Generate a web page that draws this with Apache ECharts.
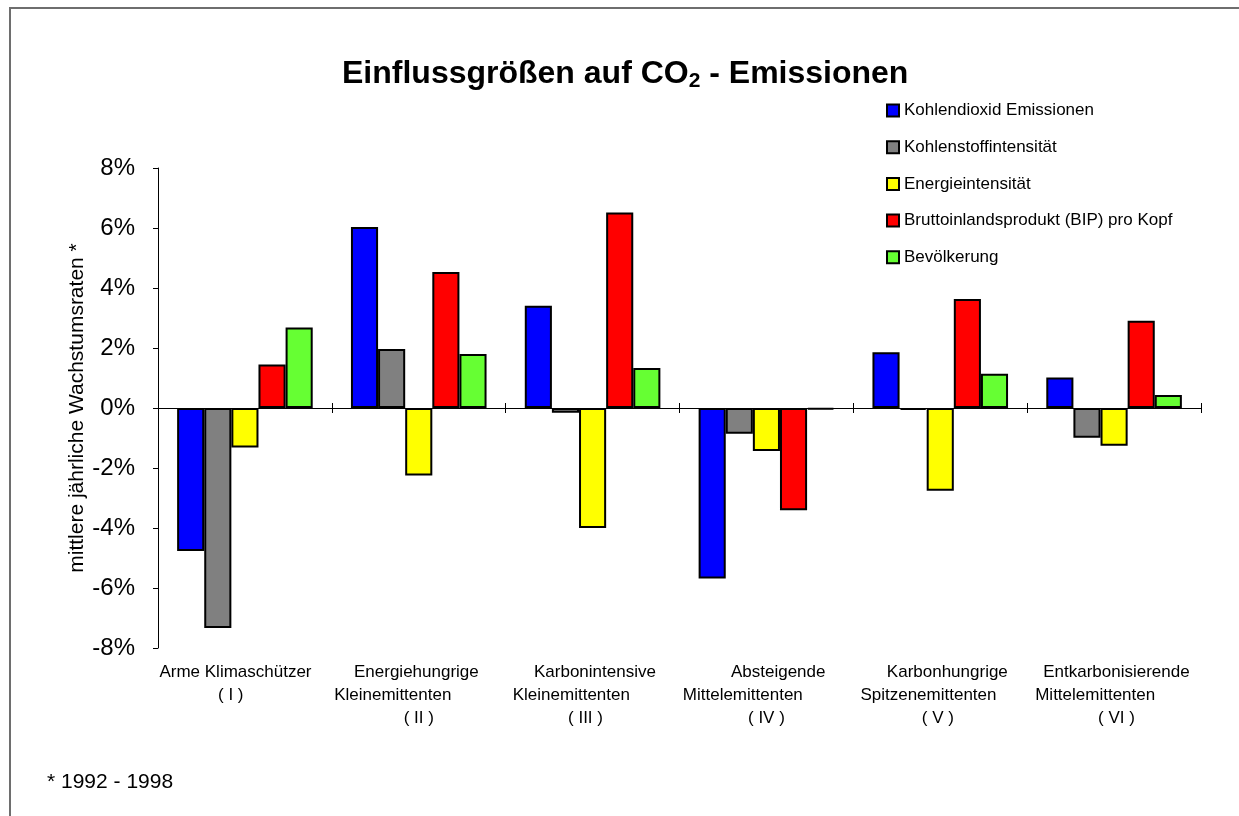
<!DOCTYPE html>
<html>
<head>
<meta charset="utf-8">
<script src="https://cdn.jsdelivr.net/npm/echarts@6/dist/echarts.min.js"></script>
<style>
  html, body { margin: 0; padding: 0; background: #fff; }
  #chart { width: 1239px; height: 816px; }
</style>
</head>
<body>
<div id="chart"></div>
<script>
// Kategorien (Leerzeichen verschieben die Zeilen wie im Original)
const categories = [
  'Arme Klimaschützer    \n( I )      ',
  'Energiehungrige \nKleinemittenten           \n( II )',
  ' Karbonintensive\nKleinemittenten         \n( III )   ',
  '     Absteigende\nMittelemittenten          \n( IV )',
  '   Karbonhungrige\nSpitzenemittenten     \n( V ) ',
  ' Entkarbonisierende\nMittelemittenten        \n ( VI )'
]

const seriesNames = [
  'Kohlendioxid Emissionen',
  'Kohlenstoffintensität',
  'Energieintensität',
  'Bruttoinlandsprodukt (BIP) pro Kopf',
  'Bevölkerung'
]

// mittlere jährliche Wachstumsraten in %
const co2 = [-4.77, 6.03, 3.41, -5.68, 1.86, 1.02]
const kohlenstoff = [-7.33, 1.97, -0.16, -0.86, -0.06, -0.99]
const energie = [-1.32, -2.25, -4.0, -1.43, -2.76, -1.26]
const bip = [1.45, 4.53, 6.52, -3.41, 3.63, 2.91]
const bevoelkerung = [2.68, 1.8, 1.33, -0.05, 1.14, 0.43]

const colors = ['#0000ff', '#808080', '#ffff00', '#ff0000', '#66ff33']
const values = [co2, kohlenstoff, energie, bip, bevoelkerung]

const yTicks = [-8, -6, -4, -2, 0, 2, 4, 6, 8]

const myChart = echarts.init(document.getElementById('chart'))
const font = 'Arial, "Liberation Sans", sans-serif'

const option = {
  backgroundColor: '#ffffff',
  animation: false,
  textStyle: { fontFamily: font },
  title: {
    text: 'Einflussgrößen auf CO{sub|2} - Emissionen',
    left: 337,
    top: 52,
    textStyle: {
      fontFamily: font,
      fontSize: 32,
      fontWeight: 'bold',
      color: '#000',
      rich: {
        sub: { fontFamily: font, fontSize: 21, fontWeight: 'bold', color: '#000', padding: [14, 0, 0, 0] }
      }
    }
  },
  legend: {
    orient: 'vertical',
    left: 881,
    top: 97,
    itemWidth: 12,
    itemHeight: 12,
    itemGap: 19.7,
    icon: 'rect',
    data: seriesNames,
    itemStyle: { borderColor: '#000', borderWidth: 2 },
    textStyle: { fontFamily: font, fontSize: 17, color: '#000', lineHeight: 17 }
  },
  grid: {
    left: 158,
    right: 38,
    top: 168,
    bottom: 168,
    containLabel: false
  },
  xAxis: [
    {
      type: 'category',
      data: categories,
      position: 'bottom',
      axisLine: { onZero: true, onZeroAxisIndex: 0, lineStyle: { color: '#000', width: 1 } },
      axisTick: { show: true, length: 5, lineStyle: { color: '#000' } },
      axisLabel: { show: false }
    },
    {
      type: 'category',
      data: categories,
      position: 'bottom',
      axisLine: { onZero: true, onZeroAxisIndex: 0, show: false },
      axisTick: { show: true, inside: true, length: 5, lineStyle: { color: '#000' } },
      axisLabel: { show: false }
    },
    {
      type: 'category',
      data: categories,
      position: 'bottom',
      axisLine: { onZero: false, show: false },
      axisTick: { show: false },
      axisLabel: {
        show: true,
        interval: 0,
        margin: 13,
        fontFamily: font,
        fontSize: 17,
        lineHeight: 23,
        color: '#000',
        align: 'center'
      }
    }
  ],
  yAxis: {
    type: 'value',
    min: yTicks[0],
    max: yTicks[yTicks.length - 1],
    interval: 2,
    name: 'mittlere jährliche Wachstumsraten *',
    nameLocation: 'middle',
    nameRotate: 90,
    nameGap: 70,
    nameMoveOverlap: false,
    nameTextStyle: { fontFamily: font, fontSize: 21, color: '#000' },
    axisLine: { show: true, lineStyle: { color: '#000', width: 1 } },
    axisTick: { show: true, length: 5, lineStyle: { color: '#000' } },
    splitLine: { show: false },
    axisLabel: {
      margin: 23,
      fontFamily: font,
      fontSize: 24,
      color: '#000',
      formatter: v => v + '%'
    }
  },
  series: seriesNames.map((name, i) => ({
    name: name,
    type: 'bar',
    data: values[i],
    barGap: '0%',
    barCategoryGap: '22%',
    itemStyle: {
      color: colors[i],
      borderColor: '#000',
      borderWidth: 2
    }
  })),
  graphic: [
    {
      type: 'rect',
      shape: { x: 10, y: 8, width: 1400, height: 1000 },
      style: { fill: 'none', stroke: '#6e6e6e', lineWidth: 2 },
      silent: true
    },
    {
      type: 'text',
      left: 47,
      top: 772,
      style: { text: '* 1992 - 1998', fontFamily: font, fontSize: 21, fill: '#000' }
    }
  ]
}

myChart.setOption(option)
window.addEventListener('resize', () => myChart.resize())
</script>
</body>
</html>
